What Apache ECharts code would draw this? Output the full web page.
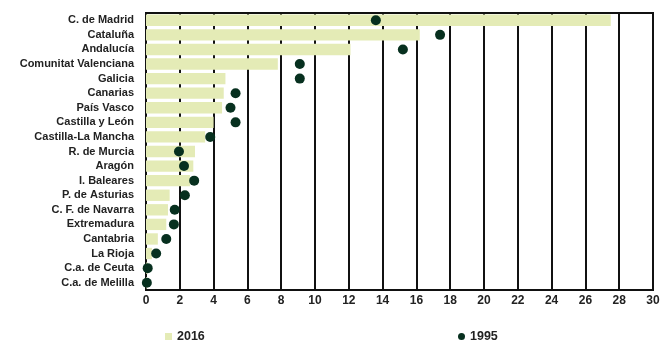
<!DOCTYPE html>
<html>
<head>
<meta charset="utf-8">
<script src="https://cdn.jsdelivr.net/npm/echarts@6/dist/echarts.min.js"></script>
<style>html,body{margin:0;padding:0;background:#fff;}#c{width:667px;height:343px;}</style>
</head>
<body>
<div id="c"></div>
<script>
const categories = ["C. de Madrid","Cataluña","Andalucía","Comunitat Valenciana","Galicia","Canarias","País Vasco","Castilla y León","Castilla-La Mancha","R. de Murcia","Aragón","I. Baleares","P. de Asturias","C. F. de Navarra","Extremadura","Cantabria","La Rioja","C.a. de Ceuta","C.a. de Melilla"];
const values2016 = [27.5,16.2,12.1,7.8,4.7,4.6,4.5,4.0,3.5,2.9,2.8,2.6,1.4,1.3,1.2,0.7,0.35,0.1,0.05];
const values1995 = [13.6,17.4,15.2,9.1,9.1,5.3,5.0,5.3,3.8,1.95,2.25,2.85,2.3,1.7,1.65,1.2,0.6,0.1,0.05];
const xTicks = {min:0,max:30,interval:2};

const chart = echarts.init(document.getElementById('c'));
chart.setOption({
  animation:false,
  backgroundColor:'#fff',
  grid:{left:146,right:14,top:13,bottom:53,show:true,borderColor:'#111',borderWidth:2,backgroundColor:'transparent'},
  legend:[
    {data:[{name:'2016',icon:'rect'}],left:160,top:325,itemWidth:7,itemHeight:7,itemGap:4,textStyle:{fontFamily:'Liberation Sans',fontWeight:'bold',fontSize:12.5,color:'#222'}},
    {data:[{name:'1995',icon:'circle'}],left:453,top:325,itemWidth:7,itemHeight:7,itemStyle:{opacity:1},textStyle:{fontFamily:'Liberation Sans',fontWeight:'bold',fontSize:12.5,color:'#222'}}
  ],
  xAxis:{type:'value',min:xTicks.min,max:xTicks.max,interval:xTicks.interval,
    axisLine:{show:true,lineStyle:{color:'#111',width:2}},
    axisTick:{show:false},
    axisLabel:{margin:5,fontFamily:'Liberation Sans',fontWeight:'bold',fontSize:12,color:'#222'},
    splitLine:{show:true,lineStyle:{color:'#111',width:2}}},
  yAxis:{type:'category',data:categories,inverse:true,
    axisLine:{show:true,lineStyle:{color:'#111',width:2}},
    axisTick:{show:false},
    axisLabel:{interval:0,margin:12,fontFamily:'Liberation Sans',fontWeight:'bold',fontSize:11,lineHeight:12,color:'#222'}},
  series:[
    {name:'2016',type:'bar',data:values2016,barCategoryGap:'22%',itemStyle:{color:'#e4ebb6',opacity:1},zlevel:1,z:5},
    {name:'1995',type:'scatter',data:values1995,symbol:'circle',symbolSize:10,itemStyle:{color:'#07301f',opacity:1},zlevel:1,z:6}
  ]
});
</script>
</body>
</html>
